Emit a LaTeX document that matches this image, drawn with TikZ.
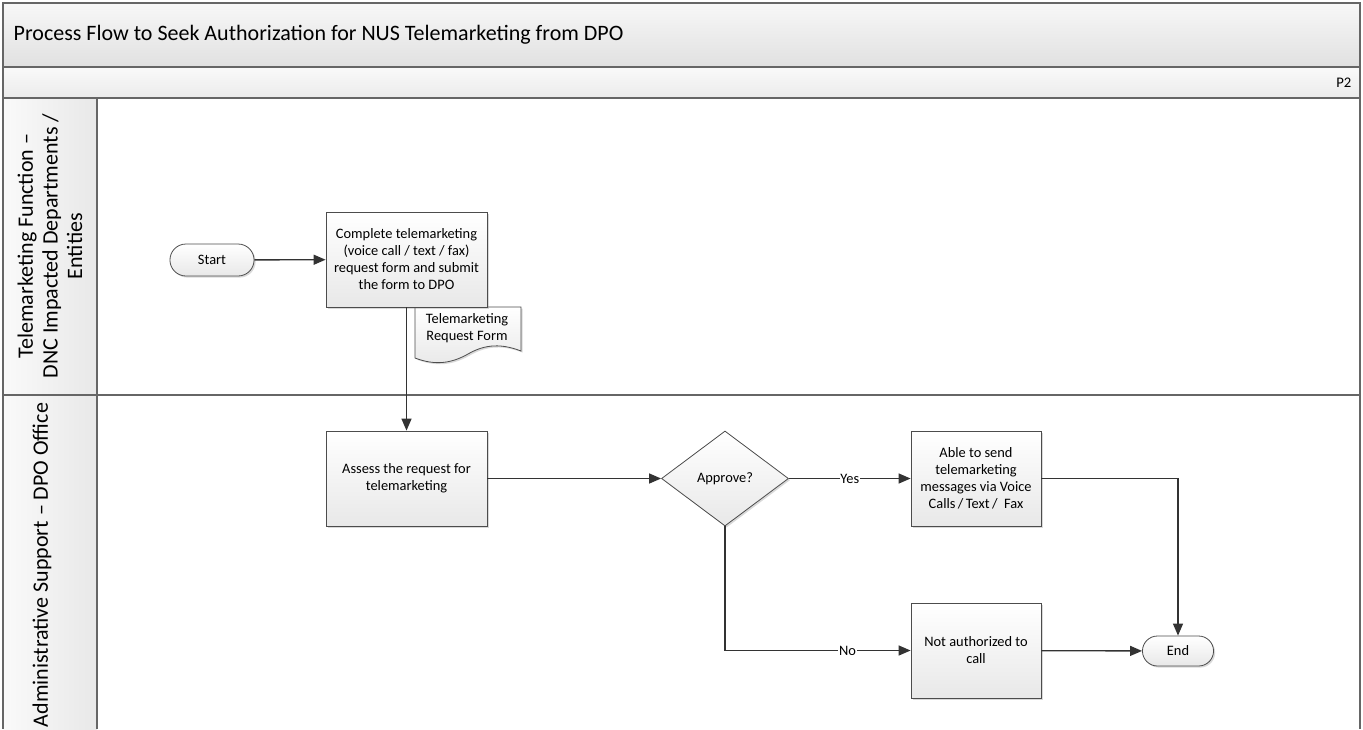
\documentclass[tikz,border=0pt]{standalone}
\usepackage{fontspec}
\setmainfont{Carlito}
\usetikzlibrary{arrows.meta,shapes.geometric,shapes.misc,shadows}

\begin{document}
\begin{tikzpicture}[
                x=0.75pt, y=-0.75pt,
                frame/.style={draw=black!60, line width=0.8pt},
                boxshade/.style={top color=white, bottom color=black!9,
                        drop shadow={shadow xshift=1.2pt, shadow yshift=-1.2pt, opacity=0.3}},
                procbox/.style={rectangle, draw=black!70, line width=0.6pt, boxshade,
                        minimum width=120.75pt, minimum height=71.25pt, align=center,
                        inner sep=2pt, font=\fontsize{10.8}{12.75}\selectfont},
                terminal/.style={rounded rectangle, draw=black!70, line width=0.6pt, boxshade,
                        minimum height=24pt, align=center, font=\fontsize{10.8}{12.75}\selectfont},
                decision/.style={diamond, draw=black!70, line width=0.6pt, boxshade,
                        minimum width=95.25pt, minimum height=71.25pt, inner sep=0pt,
                        font=\fontsize{10.8}{12.75}\selectfont},
                flow/.style={draw=black!80, line width=1pt, -{Triangle[length=9pt,width=7.5pt]}},
                lbl/.style={fill=white, inner sep=0.5pt, font=\fontsize{10.8}{12}\selectfont},
                lanetext/.style={rotate=90, align=center, font=\fontsize{16.5}{18.5}\selectfont}
            ]
            \useasboundingbox (0,0) rectangle (1363,729);

            % header and lanes
            \fill[top color=black!3, bottom color=black!12] (3,3) rectangle (1360,67);
            \fill[top color=black!2, bottom color=black!8] (3,67) rectangle (1360,98);
            \fill[left color=black!2, right color=black!9] (3,98) rectangle (97,729);
            \draw[frame] (3,729) -- (3,3) -- (1360,3) -- (1360,729);
            \draw[frame] (3,67) -- (1360,67);
            \draw[frame] (3,98) -- (1360,98);
            \draw[frame] (3,395) -- (1360,395);
            \draw[frame] (97,98) -- (97,729);

            \node[anchor=west, font=\fontsize{16.5}{19}\selectfont] (title) at (9,35)
                {Process Flow to Seek Authorization for NUS Telemarketing from DPO};
            \node[anchor=east, font=\fontsize{11}{13}\selectfont] (page) at (1356,83) {P2};

            \node[lanetext] (lanea) at (50,246)
                {Telemarketing Function --\\DNC Impacted Departments /\\Entities};
            \node[lanetext] (laneb) at (42,565) {Administrative Support -- DPO Office};

            % form document
            \path[draw=black!70, line width=0.6pt, boxshade]
                (415,307) -- (521,307) -- (521,351)
                .. controls (498,342) and (482,346) .. (468,354)
                .. controls (452,363) and (436,366) .. (415,358) -- cycle;
            \node[align=center, font=\fontsize{10.8}{12.75}\selectfont] (form) at (467,328)
                {Telemarketing\\Request Form};

            % steps
            \node[terminal, minimum width=69.75pt] (start) at (212,260) {Start};
            \node[procbox] (complete) at (406.5,259.5)
                {Complete telemarketing\\(voice call / text / fax)\\request form and submit\\the form to DPO};
            \node[procbox] (assess) at (406.5,478.5) {Assess the request for\\telemarketing};
            \node[decision] (approve) at (725,478.5) {Approve?};
            \node[procbox, minimum width=97.5pt] (able) at (976,478.5)
                {Able to send\\telemarketing\\messages via Voice\\Calls\,/\,Text\,/ ~Fax};
            \node[procbox, minimum width=97.5pt] (notauth) at (976,650.5) {Not authorized to\\call};
            \node[terminal, minimum width=60pt, minimum height=22.5pt] (end) at (1178,651) {End};

            % connectors
            \draw[flow] (start) -- (complete);
            \draw[flow] (complete) -- (assess);
            \draw[flow] (assess) -- (approve);
            \draw[flow] (approve) -- node[lbl] {Yes} (able);
            \draw[flow] (approve.south) |- node[lbl, pos=0.83] {No} (notauth);
            \draw[flow] (able) -| (end);
            \draw[flow] (notauth) -- (end);

        \end{tikzpicture}
\end{document}
